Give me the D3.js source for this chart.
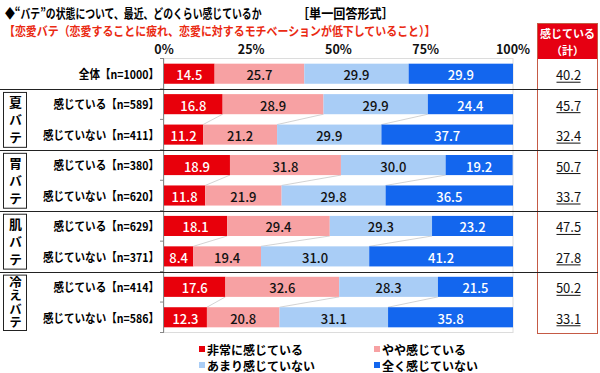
<!DOCTYPE html>
<html lang="ja">
<head>
<meta charset="UTF-8">
<title>バテの状態</title>
<style>
  body { margin: 0; background: #fff; }
  svg { display: block; font-family: "Noto Sans CJK JP", "Noto Sans", sans-serif; }
</style>
</head>
<body>
<svg id="chart" width="600" height="373"></svg>
<script src="https://d3js.org/d3.v7.min.js"></script>
<script>
// data
const rowLabels = ["全体【n=1000】", "感じている【n=589】", "感じていない【n=411】",
  "感じている【n=380】", "感じていない【n=620】", "感じている【n=629】",
  "感じていない【n=371】", "感じている【n=414】", "感じていない【n=586】"];
const veryMuch   = [14.5, 16.8, 11.2, 18.9, 11.8, 18.1, 8.4, 17.6, 12.3];
const somewhat   = [25.7, 28.9, 21.2, 31.8, 21.9, 29.4, 19.4, 32.6, 20.8];
const notMuch    = [29.9, 29.9, 29.9, 30.0, 29.8, 29.3, 31.0, 28.3, 31.1];
const notAtAll   = [29.9, 24.4, 37.7, 19.2, 36.5, 23.2, 41.2, 21.5, 35.8];
const feelTotal  = [40.2, 45.7, 32.4, 50.7, 33.7, 47.5, 27.8, 50.2, 33.1];
const groupNames = ["夏バテ", "胃バテ", "肌バテ", "冷えバテ"];
const groupRows  = [[1, 2], [3, 4], [5, 6], [7, 8]];
const seriesNames = ["非常に感じている", "やや感じている", "あまり感じていない", "全く感じていない"];
const xTicks = [0, 25, 50, 75, 100];

const colors = ["#e8000b", "#f7a1a3", "#a9cdf6", "#1366ee"];
const textColors = ["#fff", "#111", "#111", "#fff"];

const svg = d3.select("#chart");

// squeeze a text horizontally (the original font is proportional, narrower than Noto)
function placeText(sel, px, py, sx) {
  sel.attr("x", 0).attr("y", 0)
    .attr("transform", "translate(" + px + "," + py + ") scale(" + sx + ",1)");
  return sel;
}
function fitText(sel, px, py, width) {
  const n = sel.node().getComputedTextLength();
  return placeText(sel, px, py, width / n);
}

// table for the stack
const keys = ["a", "b", "c", "d"];
const table = rowLabels.map((l, i) => ({
  idx: i, a: veryMuch[i], b: somewhat[i], c: notMuch[i], d: notAtAll[i]
}));
const stacked = d3.stack().keys(keys)(table);

const x = d3.scaleLinear().domain([0, 100]).range([164, 513]);
const y = d3.scaleBand().domain(d3.range(rowLabels.length))
  .range([58.5, 332.5]).paddingInner(0.34).paddingOuter(0.17);
const gap = y.step() * 0.34 / 2;

// titles
fitText(svg.append("text")
  .attr("dominant-baseline", "central")
  .attr("font-size", 13).attr("font-weight", "bold").attr("fill", "#000")
  .text("◆“バテ”の状態について、最近、どのくらい感じているか"), 5, 12.5, 257);
fitText(svg.append("text")
  .attr("dominant-baseline", "central")
  .attr("font-size", 13).attr("font-weight", "bold").attr("fill", "#000")
  .text("［単一回答形式］"), 297, 12.5, 97);
fitText(svg.append("text")
  .attr("dominant-baseline", "central")
  .attr("font-size", 12.5).attr("font-weight", "bold").attr("fill", "#ea2a12")
  .text("【恋愛バテ（恋愛することに疲れ、恋愛に対するモチベーションが低下していること）】"), 4, 30, 432);

// plot area frame
svg.append("rect")
  .attr("x", x(0)).attr("y", y.range()[0])
  .attr("width", x(100) - x(0)).attr("height", y.range()[1] - y.range()[0])
  .attr("fill", "none").attr("stroke", "#dcdcdc");

// x tick labels on top
svg.append("g").selectAll("text").data(xTicks).join("text")
  .attr("x", d => x(d)).attr("y", 48.5)
  .attr("text-anchor", "middle").attr("dominant-baseline", "central")
  .attr("font-size", 12.5).attr("font-weight", "bold").attr("fill", "#111")
  .text(d => d + "%");

// series lines inside each group
const cum = table.map(r => [r.a, r.a + r.b, r.a + r.b + r.c]);
groupRows.forEach(g => {
  for (let k = 0; k < g.length - 1; k++) {
    const r0 = g[k], r1 = g[k + 1];
    cum[r0].forEach((v, j) => {
      svg.append("line")
        .attr("x1", x(v)).attr("y1", y(r0) + y.bandwidth())
        .attr("x2", x(cum[r1][j])).attr("y2", y(r1))
        .attr("stroke", "#c8c8c8").attr("stroke-width", 0.8);
    });
  }
});

// bars
const layers = svg.append("g").selectAll("g").data(stacked).join("g")
  .attr("fill", (d, i) => colors[i]);
layers.selectAll("rect").data(d => d).join("rect")
  .attr("x", d => x(d[0])).attr("y", d => y(d.data.idx))
  .attr("width", d => x(d[1]) - x(d[0])).attr("height", y.bandwidth());

// value labels
stacked.forEach((layer, i) => {
  svg.append("g").selectAll("text").data(layer).join("text")
    .attr("x", d => (x(d[0]) + x(d[1])) / 2)
    .attr("y", d => y(d.data.idx) + y.bandwidth() / 2 + 1)
    .attr("text-anchor", "middle").attr("dominant-baseline", "central")
    .attr("font-size", 13).attr("font-weight", 500).attr("fill", textColors[i])
    .text(d => (d[1] - d[0]).toFixed(1));
});

// category axis line and ticks
svg.append("line")
  .attr("x1", x(0) - 0.5).attr("x2", x(0) - 0.5)
  .attr("y1", y.range()[0]).attr("y2", y.range()[1])
  .attr("stroke", "#888");
svg.append("g").selectAll("line").data(d3.range(rowLabels.length + 1)).join("line")
  .attr("x1", x(0) - 4).attr("x2", x(0))
  .attr("y1", d => y.range()[0] + y.step() * 0.17 - gap + d * y.step())
  .attr("y2", d => y.range()[0] + y.step() * 0.17 - gap + d * y.step())
  .attr("stroke", "#888");

// row labels
svg.append("g").selectAll("text").data(rowLabels).join("text")
  .attr("text-anchor", "end").attr("dominant-baseline", "central")
  .attr("font-size", 12).attr("font-weight", "bold").attr("fill", "#000")
  .text(d => d)
  .each(function (d, i) {
    placeText(d3.select(this), 159, y(i) + y.bandwidth() / 2, 0.88);
  });

// right column box
const boxX = 537, boxW = 61;
svg.append("rect").attr("x", boxX).attr("y", 23).attr("width", boxW).attr("height", 36)
  .attr("fill", "#e60012");
svg.append("rect").attr("x", boxX + 0.5).attr("y", 23.5).attr("width", boxW - 1).attr("height", 310)
  .attr("fill", "none").attr("stroke", "#c55a45");
svg.append("text").attr("x", boxX + boxW / 2).attr("y", 33)
  .attr("text-anchor", "middle").attr("dominant-baseline", "central")
  .attr("font-size", 11).attr("font-weight", "bold").attr("fill", "#fff")
  .text("感じている");
svg.append("text").attr("x", boxX + boxW / 2).attr("y", 49.5)
  .attr("text-anchor", "middle").attr("dominant-baseline", "central")
  .attr("font-size", 11).attr("font-weight", "bold").attr("fill", "#fff")
  .text("（計）");
const totals = svg.append("g").selectAll("g").data(feelTotal).join("g")
  .attr("transform", (d, i) => "translate(" + (boxX + boxW / 2 + 1) + "," + (y(i) + y.bandwidth() / 2 + 1) + ")");
totals.append("text")
  .attr("text-anchor", "middle").attr("dominant-baseline", "central")
  .attr("font-size", 13).attr("fill", "#111")
  .text(d => d.toFixed(1));
totals.append("line")
  .attr("x1", -12).attr("x2", 12).attr("y1", 7.5).attr("y2", 7.5)
  .attr("stroke", "#111").attr("stroke-width", 1);

// group separators and group boxes
groupRows.forEach((g, gi) => {
  const top = y(g[0]) - gap;
  svg.append("line").attr("x1", 0).attr("x2", 598)
    .attr("y1", Math.round(top) + 0.5).attr("y2", Math.round(top) + 0.5)
    .attr("stroke", "#222");
  const last = g[g.length - 1];
  const bottom = gi < groupRows.length - 1 ? y(last) + y.bandwidth() + gap : 333;
  const bx = 3, by = top + 3, bh = bottom - top - 6;
  svg.append("rect").attr("x", bx + 0.5).attr("y", by + 0.5).attr("width", 23).attr("height", bh)
    .attr("fill", "none").attr("stroke", "#222");
  const n = Array.from(groupNames[gi]).length;
  const fs = n > 3 ? 12.5 : 13;
  const sp = Math.min(17.5, (bh - 2) / n);
  svg.append("text")
    .attr("x", bx + 12.5).attr("y", by + bh / 2 + (sp - fs) / 2)
    .attr("writing-mode", "vertical-rl")
    .attr("text-anchor", "middle")
    .attr("letter-spacing", sp - fs)
    .attr("font-size", fs).attr("font-weight", "bold").attr("fill", "#000")
    .text(groupNames[gi]);
});

// legend
const legX = [199, 374], legY = [349, 365];
seriesNames.forEach((name, i) => {
  const lx = legX[i % 2], ly = legY[Math.floor(i / 2)];
  svg.append("rect").attr("x", lx).attr("y", ly - 3).attr("width", 6).attr("height", 6)
    .attr("fill", colors[i]);
  svg.append("text").attr("x", lx + 8).attr("y", ly)
    .attr("dominant-baseline", "central")
    .attr("font-size", 12).attr("font-weight", "bold").attr("fill", "#000")
    .text(name);
});
</script>
</body>
</html>
